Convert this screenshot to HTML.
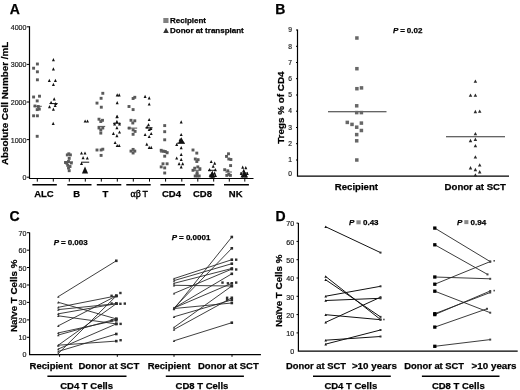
<!DOCTYPE html>
<html><head><meta charset="utf-8">
<style>
html,body{margin:0;padding:0;background:#fff;width:520px;height:390px;overflow:hidden}
svg{display:block;will-change:transform}
text{font-family:"Liberation Sans",sans-serif;stroke:#000;stroke-width:0.25px}
.t text,text.t{stroke:#1e1e1e;stroke-width:0.2px}
.b{font-weight:bold}
.t{font-size:7.1px;fill:#1e1e1e;text-anchor:end}
.pl{font-size:14px;font-weight:bold}
.ax{stroke:#000;stroke-width:1.2;fill:none}
.tk{stroke:#000;stroke-width:1;fill:none}
.gb{stroke:#000;stroke-width:1.4}
.xl{font-size:9.5px;font-weight:bold;text-anchor:middle}
.pv{font-size:8px;font-weight:bold}
.pi{font-style:italic}
</style></head><body>
<svg width="520" height="390" viewBox="0 0 520 390">
<!-- Panel A -->
<text class="pl" x="9.8" y="14.1">A</text>
<rect x="163.3" y="18" width="5.2" height="5" fill="#808080"/>
<text class="b" x="170" y="22.9" font-size="8">Recipient</text>
<path d="M163.2 33 L166 27.8 L168.8 33 Z" fill="#333"/>
<text class="b" x="170" y="33.0" font-size="8">Donor at transplant</text>
<text class="b" font-size="9.9" text-anchor="middle" transform="translate(8.3,103.4) rotate(-90)">Absolute Cell Number /mL</text>
<path class="ax" d="M29.5 26.3 V178.5 H253.5"/>
<path class="tk" d="M26.8 26.8 H29.5 M26.8 64.4 H29.5 M26.8 102 H29.5 M26.8 139.6 H29.5 M26.8 177.2 H29.5"/>
<text class="t" x="26.5" y="30.4">4000</text>
<text class="t" x="26.5" y="67.4">3000</text>
<text class="t" x="26.5" y="105">2000</text>
<text class="t" x="26.5" y="142.6">1000</text>
<text class="t" x="26.5" y="179.8">0</text>
<path class="tk" d="M37.3 178.5V181.6 M53.3 178.5V181.6 M69.3 178.5V181.6 M85.3 178.5V181.6 M101.3 178.5V181.6 M117.3 178.5V181.6 M133.3 178.5V181.6 M149.5 178.5V181.6 M165.6 178.5V181.6 M181.8 178.5V181.6 M197.8 178.5V181.6 M213.7 178.5V181.6 M229.3 178.5V181.6 M244.8 178.5V181.6"/>
<path class="gb" d="M32.4 184.7H56.8 M67.3 184.7H91.5 M96.8 184.7H121.3 M126.3 184.7H150.7 M160.4 184.7H184.9 M190.1 184.7H214.3 M224 184.7H248.9"/>
<text class="xl" x="43.9" y="196.7">ALC</text>
<text class="xl" x="76.6" y="196.7">B</text>
<text class="xl" x="105.3" y="196.7">T</text>
<text x="130.6" y="196.7" font-size="10" style="stroke-width:0.35px"><tspan font-family="Liberation Serif">αβ</tspan><tspan x="142.4" font-size="8.9">T</tspan></text>
<text class="xl" x="171.5" y="196.7">CD4</text>
<text class="xl" x="202.5" y="196.7">CD8</text>
<text class="xl" x="235.7" y="196.7">NK</text>
<rect x="35.95" y="62.55" width="2.9" height="2.9" fill="#5a5a5a"/>
<rect x="32.15" y="66.75" width="2.9" height="2.9" fill="#5a5a5a"/>
<rect x="35.95" y="70.35" width="2.9" height="2.9" fill="#5a5a5a"/>
<rect x="35.95" y="78.35" width="2.9" height="2.9" fill="#5a5a5a"/>
<rect x="32.15" y="95.55" width="2.9" height="2.9" fill="#5a5a5a"/>
<rect x="38.05" y="94.75" width="2.9" height="2.9" fill="#5a5a5a"/>
<rect x="35.75" y="99.45" width="2.9" height="2.9" fill="#5a5a5a"/>
<rect x="33.55" y="104.55" width="2.9" height="2.9" fill="#5a5a5a"/>
<rect x="36.85" y="105.05" width="2.9" height="2.9" fill="#5a5a5a"/>
<rect x="35.75" y="108.15" width="2.9" height="2.9" fill="#5a5a5a"/>
<rect x="37.85" y="107.65" width="2.9" height="2.9" fill="#5a5a5a"/>
<rect x="32.15" y="114.35" width="2.9" height="2.9" fill="#5a5a5a"/>
<rect x="35.95" y="114.35" width="2.9" height="2.9" fill="#5a5a5a"/>
<rect x="35.75" y="134.85" width="2.9" height="2.9" fill="#5a5a5a"/>
<rect x="65.85" y="153.45" width="2.9" height="2.9" fill="#5a5a5a"/>
<rect x="68.95" y="153.45" width="2.9" height="2.9" fill="#5a5a5a"/>
<rect x="67.35" y="152.35" width="2.9" height="2.9" fill="#5a5a5a"/>
<rect x="67.75" y="156.95" width="2.9" height="2.9" fill="#5a5a5a"/>
<rect x="64.05" y="161.05" width="2.9" height="2.9" fill="#5a5a5a"/>
<rect x="67.05" y="160.05" width="2.9" height="2.9" fill="#5a5a5a"/>
<rect x="69.85" y="161.55" width="2.9" height="2.9" fill="#5a5a5a"/>
<rect x="66.25" y="163.85" width="2.9" height="2.9" fill="#5a5a5a"/>
<rect x="68.55" y="165.05" width="2.9" height="2.9" fill="#5a5a5a"/>
<rect x="67.05" y="166.55" width="2.9" height="2.9" fill="#5a5a5a"/>
<rect x="67.75" y="169.25" width="2.9" height="2.9" fill="#5a5a5a"/>
<rect x="65.35" y="161.75" width="2.9" height="2.9" fill="#5a5a5a"/>
<rect x="101.35" y="91.85" width="2.9" height="2.9" fill="#5a5a5a"/>
<rect x="99.65" y="96.85" width="2.9" height="2.9" fill="#5a5a5a"/>
<rect x="95.55" y="101.65" width="2.9" height="2.9" fill="#5a5a5a"/>
<rect x="99.85" y="105.75" width="2.9" height="2.9" fill="#5a5a5a"/>
<rect x="97.55" y="117.75" width="2.9" height="2.9" fill="#5a5a5a"/>
<rect x="101.05" y="118.85" width="2.9" height="2.9" fill="#5a5a5a"/>
<rect x="99.35" y="120.05" width="2.9" height="2.9" fill="#5a5a5a"/>
<rect x="97.55" y="126.55" width="2.9" height="2.9" fill="#5a5a5a"/>
<rect x="101.35" y="126.55" width="2.9" height="2.9" fill="#5a5a5a"/>
<rect x="99.35" y="128.55" width="2.9" height="2.9" fill="#5a5a5a"/>
<rect x="99.35" y="131.65" width="2.9" height="2.9" fill="#5a5a5a"/>
<rect x="95.55" y="148.55" width="2.9" height="2.9" fill="#5a5a5a"/>
<rect x="99.65" y="148.55" width="2.9" height="2.9" fill="#5a5a5a"/>
<rect x="101.35" y="147.75" width="2.9" height="2.9" fill="#5a5a5a"/>
<rect x="99.65" y="153.95" width="2.9" height="2.9" fill="#5a5a5a"/>
<rect x="131.65" y="97.05" width="2.9" height="2.9" fill="#5a5a5a"/>
<rect x="133.35" y="95.85" width="2.9" height="2.9" fill="#5a5a5a"/>
<rect x="127.55" y="105.05" width="2.9" height="2.9" fill="#5a5a5a"/>
<rect x="131.65" y="108.15" width="2.9" height="2.9" fill="#5a5a5a"/>
<rect x="129.55" y="118.85" width="2.9" height="2.9" fill="#5a5a5a"/>
<rect x="133.35" y="119.35" width="2.9" height="2.9" fill="#5a5a5a"/>
<rect x="131.35" y="121.55" width="2.9" height="2.9" fill="#5a5a5a"/>
<rect x="127.75" y="126.65" width="2.9" height="2.9" fill="#5a5a5a"/>
<rect x="131.65" y="128.45" width="2.9" height="2.9" fill="#5a5a5a"/>
<rect x="133.65" y="129.95" width="2.9" height="2.9" fill="#5a5a5a"/>
<rect x="131.65" y="132.85" width="2.9" height="2.9" fill="#5a5a5a"/>
<rect x="129.55" y="149.65" width="2.9" height="2.9" fill="#5a5a5a"/>
<rect x="133.35" y="149.65" width="2.9" height="2.9" fill="#5a5a5a"/>
<rect x="131.65" y="147.95" width="2.9" height="2.9" fill="#5a5a5a"/>
<rect x="131.65" y="151.55" width="2.9" height="2.9" fill="#5a5a5a"/>
<rect x="163.25" y="124.15" width="2.9" height="2.9" fill="#5a5a5a"/>
<rect x="163.25" y="130.25" width="2.9" height="2.9" fill="#5a5a5a"/>
<rect x="163.25" y="138.35" width="2.9" height="2.9" fill="#5a5a5a"/>
<rect x="159.75" y="148.85" width="2.9" height="2.9" fill="#5a5a5a"/>
<rect x="161.75" y="149.65" width="2.9" height="2.9" fill="#5a5a5a"/>
<rect x="163.85" y="150.05" width="2.9" height="2.9" fill="#5a5a5a"/>
<rect x="165.65" y="151.35" width="2.9" height="2.9" fill="#5a5a5a"/>
<rect x="163.25" y="154.75" width="2.9" height="2.9" fill="#5a5a5a"/>
<rect x="161.55" y="162.35" width="2.9" height="2.9" fill="#5a5a5a"/>
<rect x="165.65" y="162.35" width="2.9" height="2.9" fill="#5a5a5a"/>
<rect x="159.75" y="165.45" width="2.9" height="2.9" fill="#5a5a5a"/>
<rect x="163.25" y="166.45" width="2.9" height="2.9" fill="#5a5a5a"/>
<rect x="163.25" y="171.55" width="2.9" height="2.9" fill="#5a5a5a"/>
<rect x="191.55" y="148.55" width="2.9" height="2.9" fill="#5a5a5a"/>
<rect x="195.35" y="151.65" width="2.9" height="2.9" fill="#5a5a5a"/>
<rect x="193.85" y="157.55" width="2.9" height="2.9" fill="#5a5a5a"/>
<rect x="196.65" y="158.25" width="2.9" height="2.9" fill="#5a5a5a"/>
<rect x="195.35" y="160.05" width="2.9" height="2.9" fill="#5a5a5a"/>
<rect x="196.35" y="165.45" width="2.9" height="2.9" fill="#5a5a5a"/>
<rect x="193.25" y="166.75" width="2.9" height="2.9" fill="#5a5a5a"/>
<rect x="198.45" y="167.25" width="2.9" height="2.9" fill="#5a5a5a"/>
<rect x="191.55" y="168.85" width="2.9" height="2.9" fill="#5a5a5a"/>
<rect x="195.65" y="171.15" width="2.9" height="2.9" fill="#5a5a5a"/>
<rect x="193.75" y="174.55" width="2.9" height="2.9" fill="#5a5a5a"/>
<rect x="195.75" y="174.55" width="2.9" height="2.9" fill="#5a5a5a"/>
<rect x="197.75" y="174.55" width="2.9" height="2.9" fill="#5a5a5a"/>
<rect x="195.55" y="173.15" width="2.9" height="2.9" fill="#5a5a5a"/>
<rect x="227.05" y="152.35" width="2.9" height="2.9" fill="#5a5a5a"/>
<rect x="225.05" y="154.95" width="2.9" height="2.9" fill="#5a5a5a"/>
<rect x="227.35" y="157.55" width="2.9" height="2.9" fill="#5a5a5a"/>
<rect x="229.45" y="158.05" width="2.9" height="2.9" fill="#5a5a5a"/>
<rect x="229.15" y="164.15" width="2.9" height="2.9" fill="#5a5a5a"/>
<rect x="223.25" y="168.25" width="2.9" height="2.9" fill="#5a5a5a"/>
<rect x="226.35" y="169.35" width="2.9" height="2.9" fill="#5a5a5a"/>
<rect x="227.35" y="172.95" width="2.9" height="2.9" fill="#5a5a5a"/>
<rect x="225.35" y="173.95" width="2.9" height="2.9" fill="#5a5a5a"/>
<rect x="228.95" y="173.95" width="2.9" height="2.9" fill="#5a5a5a"/>
<path d="M51.90 61.30L53.40 58.10L54.90 61.30Z" fill="#111"/>
<path d="M51.90 70.50L53.40 67.30L54.90 70.50Z" fill="#111"/>
<path d="M47.80 82.00L49.30 78.80L50.80 82.00Z" fill="#111"/>
<path d="M53.90 82.00L55.40 78.80L56.90 82.00Z" fill="#111"/>
<path d="M51.90 86.00L53.40 82.80L54.90 86.00Z" fill="#111"/>
<path d="M52.70 100.40L54.20 97.20L55.70 100.40Z" fill="#111"/>
<path d="M49.60 104.00L51.10 100.80L52.60 104.00Z" fill="#111"/>
<path d="M54.20 105.10L55.70 101.90L57.20 105.10Z" fill="#111"/>
<path d="M53.70 107.10L55.20 103.90L56.70 107.10Z" fill="#111"/>
<path d="M48.00 108.30L49.50 105.10L51.00 108.30Z" fill="#111"/>
<path d="M51.90 110.70L53.40 107.50L54.90 110.70Z" fill="#111"/>
<path d="M51.70 124.90L53.20 121.70L54.70 124.90Z" fill="#111"/>
<path d="M83.60 122.60L85.10 119.40L86.60 122.60Z" fill="#111"/>
<path d="M86.00 122.60L87.50 119.40L89.00 122.60Z" fill="#111"/>
<path d="M80.00 154.60L81.50 151.40L83.00 154.60Z" fill="#111"/>
<path d="M83.50 154.60L85.00 151.40L86.50 154.60Z" fill="#111"/>
<path d="M81.60 159.20L83.10 156.00L84.60 159.20Z" fill="#111"/>
<path d="M85.80 159.60L87.30 156.40L88.80 159.60Z" fill="#111"/>
<path d="M80.00 165.00L81.50 161.80L83.00 165.00Z" fill="#111"/>
<path d="M115.70 96.50L117.20 93.30L118.70 96.50Z" fill="#111"/>
<path d="M117.70 96.50L119.20 93.30L120.70 96.50Z" fill="#111"/>
<path d="M115.70 104.20L117.20 101.00L118.70 104.20Z" fill="#111"/>
<path d="M115.70 118.00L117.20 114.80L118.70 118.00Z" fill="#111"/>
<path d="M115.40 118.30L116.90 115.10L118.40 118.30Z" fill="#111"/>
<path d="M115.40 122.90L116.90 119.70L118.40 122.90Z" fill="#111"/>
<path d="M113.10 125.40L114.60 122.20L116.10 125.40Z" fill="#111"/>
<path d="M118.00 125.40L119.50 122.20L121.00 125.40Z" fill="#111"/>
<path d="M115.40 129.20L116.90 126.00L118.40 129.20Z" fill="#111"/>
<path d="M118.00 133.60L119.50 130.40L121.00 133.60Z" fill="#111"/>
<path d="M111.90 135.00L113.40 131.80L114.90 135.00Z" fill="#111"/>
<path d="M115.40 137.20L116.90 134.00L118.40 137.20Z" fill="#111"/>
<path d="M113.60 144.10L115.10 140.90L116.60 144.10Z" fill="#111"/>
<path d="M115.70 147.10L117.20 143.90L118.70 147.10Z" fill="#111"/>
<path d="M117.70 147.10L119.20 143.90L120.70 147.10Z" fill="#111"/>
<path d="M143.60 97.90L145.10 94.70L146.60 97.90Z" fill="#111"/>
<path d="M147.70 99.40L149.20 96.20L150.70 99.40Z" fill="#111"/>
<path d="M147.70 105.60L149.20 102.40L150.70 105.60Z" fill="#111"/>
<path d="M147.70 121.10L149.20 117.90L150.70 121.10Z" fill="#111"/>
<path d="M147.00 126.30L148.50 123.10L150.00 126.30Z" fill="#111"/>
<path d="M145.60 128.40L147.10 125.20L148.60 128.40Z" fill="#111"/>
<path d="M149.40 129.90L150.90 126.70L152.40 129.90Z" fill="#111"/>
<path d="M147.70 131.00L149.20 127.80L150.70 131.00Z" fill="#111"/>
<path d="M143.60 136.10L145.10 132.90L146.60 136.10Z" fill="#111"/>
<path d="M149.70 135.10L151.20 131.90L152.70 135.10Z" fill="#111"/>
<path d="M147.70 138.10L149.20 134.90L150.70 138.10Z" fill="#111"/>
<path d="M145.30 145.80L146.80 142.60L148.30 145.80Z" fill="#111"/>
<path d="M147.70 148.90L149.20 145.70L150.70 148.90Z" fill="#111"/>
<path d="M149.70 148.90L151.20 145.70L152.70 148.90Z" fill="#111"/>
<path d="M179.70 123.40L181.20 120.20L182.70 123.40Z" fill="#111"/>
<path d="M179.70 136.10L181.20 132.90L182.70 136.10Z" fill="#111"/>
<path d="M178.60 141.30L180.10 138.10L181.60 141.30Z" fill="#111"/>
<path d="M181.10 142.90L182.60 139.70L184.10 142.90Z" fill="#111"/>
<path d="M175.20 146.00L176.70 142.80L178.20 146.00Z" fill="#111"/>
<path d="M179.70 149.30L181.20 146.10L182.70 149.30Z" fill="#111"/>
<path d="M179.70 156.00L181.20 152.80L182.70 156.00Z" fill="#111"/>
<path d="M175.20 159.60L176.70 156.40L178.20 159.60Z" fill="#111"/>
<path d="M179.70 160.90L181.20 157.70L182.70 160.90Z" fill="#111"/>
<path d="M177.60 165.20L179.10 162.00L180.60 165.20Z" fill="#111"/>
<path d="M181.20 165.20L182.70 162.00L184.20 165.20Z" fill="#111"/>
<path d="M179.70 168.50L181.20 165.30L182.70 168.50Z" fill="#111"/>
<path d="M209.70 163.10L211.20 159.90L212.70 163.10Z" fill="#111"/>
<path d="M213.20 164.70L214.70 161.50L216.20 164.70Z" fill="#111"/>
<path d="M211.70 167.80L213.20 164.60L214.70 167.80Z" fill="#111"/>
<path d="M208.10 171.30L209.60 168.10L211.10 171.30Z" fill="#111"/>
<path d="M213.80 171.30L215.30 168.10L216.80 171.30Z" fill="#111"/>
<path d="M210.70 174.40L212.20 171.20L213.70 174.40Z" fill="#111"/>
<path d="M209.50 177.40L211.00 174.20L212.50 177.40Z" fill="#111"/>
<path d="M212.00 177.40L213.50 174.20L215.00 177.40Z" fill="#111"/>
<path d="M214.00 177.10L215.50 173.90L217.00 177.10Z" fill="#111"/>
<path d="M211.00 176.10L212.50 172.90L214.00 176.10Z" fill="#111"/>
<path d="M208.70 176.80L210.20 173.60L211.70 176.80Z" fill="#111"/>
<path d="M213.10 174.80L214.60 171.60L216.10 174.80Z" fill="#111"/>
<path d="M210.90 177.80L212.40 174.60L213.90 177.80Z" fill="#111"/>
<path d="M241.20 168.80L242.70 165.60L244.20 168.80Z" fill="#111"/>
<path d="M244.30 169.30L245.80 166.10L247.30 169.30Z" fill="#111"/>
<path d="M242.20 171.90L243.70 168.70L245.20 171.90Z" fill="#111"/>
<path d="M239.70 174.90L241.20 171.70L242.70 174.90Z" fill="#111"/>
<path d="M245.80 174.90L247.30 171.70L248.80 174.90Z" fill="#111"/>
<path d="M242.00 177.40L243.50 174.20L245.00 177.40Z" fill="#111"/>
<path d="M244.00 177.40L245.50 174.20L247.00 177.40Z" fill="#111"/>
<path d="M243.00 176.10L244.50 172.90L246.00 176.10Z" fill="#111"/>
<path d="M240.50 177.60L242.00 174.40L243.50 177.60Z" fill="#111"/>
<path d="M245.00 177.60L246.50 174.40L248.00 177.60Z" fill="#111"/>
<path d="M243.00 174.10L244.50 170.90L246.00 174.10Z" fill="#111"/>
<path d="M81.90 173.45L85.00 166.55L88.10 173.45Z" fill="#111"/>
<path d="M209.30 177.20L212.30 170.80L215.30 177.20Z" fill="#111"/>
<path d="M241.30 176.80L244.30 170.20L247.30 176.80Z" fill="#111"/>
<path d="M178.00 143.50L181.30 137.30L184.60 143.50Z" fill="#111"/>
<path d="M33.6 106.3H41.8" stroke="#555" stroke-width="1"/>
<path d="M49.5 103.6H57.7" stroke="#111" stroke-width="1"/>
<path d="M64.5 162H73" stroke="#555" stroke-width="1"/>
<path d="M81.2 162.2H89.2" stroke="#111" stroke-width="1"/>
<path d="M97.7 126.4H105.2" stroke="#555" stroke-width="1"/>
<path d="M113 123.3H120.8" stroke="#111" stroke-width="1"/>
<path d="M127.6 128.1H137.2" stroke="#555" stroke-width="1"/>
<path d="M145.4 127.8H152.6" stroke="#111" stroke-width="1"/>
<path d="M160 152H168.5" stroke="#555" stroke-width="1"/>
<path d="M177 143.2H185" stroke="#111" stroke-width="1"/>
<path d="M192.2 170.3H201.2" stroke="#555" stroke-width="1"/>
<path d="M208 170.3H216.3" stroke="#111" stroke-width="1"/>
<path d="M225.3 172H231.9" stroke="#555" stroke-width="1"/>
<path d="M240.1 173H247.8" stroke="#111" stroke-width="1"/>

<!-- Panel B -->
<text class="pl" x="275.3" y="14.3">B</text>
<text class="pv" y="33"><tspan class="pi" x="393">P</tspan><tspan x="400.2">=</tspan><tspan x="406.8">0.02</tspan></text>
<text class="b" font-size="9.9" text-anchor="middle" transform="translate(283.9,107.65) rotate(-90)">Tregs % of CD4</text>
<path class="ax" d="M297.5 29.5 V176.2 H509"/>
<path class="tk" d="M296 30H297.5 M296 46.3H297.5 M296 62.5H297.5 M296 78.7H297.5 M296 95H297.5 M296 111.2H297.5 M296 127.5H297.5 M296 143.7H297.5 M296 160H297.5"/>
<g class="t" style="font-size:6.7px">
<text x="292" y="32.2">9</text><text x="292" y="48.5">8</text><text x="292" y="64.7">7</text><text x="292" y="80.9">6</text><text x="292" y="97.2">5</text><text x="292" y="113.4">4</text><text x="292" y="129.7">3</text><text x="292" y="145.9">2</text><text x="292" y="162.2">1</text><text x="292" y="176">0</text>
</g>
<text class="b" font-size="9.6" x="334.8" y="189.6">Recipient</text>
<text class="b" font-size="9.6" x="444.6" y="189.6">Donor at SCT</text>
<path d="M328 111.8H386.5 M446 136.8H505" stroke="#333" stroke-width="1.1"/>
<rect x="355.15" y="36.25" width="3.5" height="3.5" fill="#676767"/>
<rect x="355.15" y="66.95" width="3.5" height="3.5" fill="#676767"/>
<rect x="355.15" y="86.95" width="3.5" height="3.5" fill="#676767"/>
<rect x="359.75" y="86.15" width="3.5" height="3.5" fill="#676767"/>
<rect x="354.95" y="104.05" width="3.5" height="3.5" fill="#676767"/>
<rect x="354.95" y="110.85" width="3.5" height="3.5" fill="#676767"/>
<rect x="359.65" y="110.85" width="3.5" height="3.5" fill="#676767"/>
<rect x="345.55" y="120.65" width="3.5" height="3.5" fill="#676767"/>
<rect x="350.25" y="122.65" width="3.5" height="3.5" fill="#676767"/>
<rect x="359.65" y="121.35" width="3.5" height="3.5" fill="#676767"/>
<rect x="354.95" y="125.45" width="3.5" height="3.5" fill="#676767"/>
<rect x="359.65" y="128.75" width="3.5" height="3.5" fill="#676767"/>
<rect x="354.95" y="132.85" width="3.5" height="3.5" fill="#676767"/>
<rect x="354.95" y="139.05" width="3.5" height="3.5" fill="#676767"/>
<rect x="355.05" y="158.25" width="3.5" height="3.5" fill="#676767"/>
<path d="M473.65 82.80L475.40 79.40L477.15 82.80Z" fill="#2a2a2a"/>
<path d="M468.75 96.80L470.50 93.40L472.25 96.80Z" fill="#2a2a2a"/>
<path d="M473.65 96.80L475.40 93.40L477.15 96.80Z" fill="#2a2a2a"/>
<path d="M473.65 113.20L475.40 109.80L477.15 113.20Z" fill="#2a2a2a"/>
<path d="M477.95 112.80L479.70 109.40L481.45 112.80Z" fill="#2a2a2a"/>
<path d="M473.65 135.30L475.40 131.90L477.15 135.30Z" fill="#2a2a2a"/>
<path d="M468.75 142.20L470.50 138.80L472.25 142.20Z" fill="#2a2a2a"/>
<path d="M473.65 140.90L475.40 137.50L477.15 140.90Z" fill="#2a2a2a"/>
<path d="M473.65 147.30L475.40 143.90L477.15 147.30Z" fill="#2a2a2a"/>
<path d="M473.65 158.60L475.40 155.20L477.15 158.60Z" fill="#2a2a2a"/>
<path d="M477.95 166.60L479.70 163.20L481.45 166.60Z" fill="#2a2a2a"/>
<path d="M468.75 169.50L470.50 166.10L472.25 169.50Z" fill="#2a2a2a"/>
<path d="M473.65 171.20L475.40 167.80L477.15 171.20Z" fill="#2a2a2a"/>
<path d="M477.95 173.40L479.70 170.00L481.45 173.40Z" fill="#2a2a2a"/>
<path d="M473.65 176.60L475.40 173.20L477.15 176.60Z" fill="#2a2a2a"/>

<!-- Panel C -->
<text class="pl" x="9.6" y="221.3">C</text>
<text class="pv" y="244.5"><tspan class="pi" x="53.8">P</tspan><tspan x="61.1">=</tspan><tspan x="67.7">0.003</tspan></text>
<text class="pv" y="239.5"><tspan class="pi" x="171.7">P</tspan><tspan x="179">=</tspan><tspan x="185.9">0.0001</tspan></text>
<text class="b" font-size="9.8" text-anchor="middle" transform="translate(16.5,295.85) rotate(-90)">Naïve T Cells %</text>
<path class="ax" d="M29.6 232.4 V354.7 H260.9"/>
<path class="tk" d="M27 232.7H29.6 M27 250.2H29.6 M27 267.5H29.6 M27 285H29.6 M27 302.4H29.6 M27 319.9H29.6 M27 337.3H29.6 M59.6 354.7V356.8 M117.3 354.7V356.8 M174 354.7V356.8 M232 354.7V356.8"/>
<g class="t">
<text x="26.5" y="235.6">70</text><text x="26.5" y="253">60</text><text x="26.5" y="270.5">50</text><text x="26.5" y="288">40</text><text x="26.5" y="305.4">30</text><text x="26.5" y="322.8">20</text><text x="26.5" y="339.5">10</text><text x="26.5" y="356.5">0</text>
</g>
<text class="b" font-size="9.5" x="29.6" y="369.3">Recipient</text>
<text class="b" font-size="9.5" x="78.5" y="369.3">Donor at SCT</text>
<text class="b" font-size="9.5" x="147.7" y="369.3">Recipient</text>
<text class="b" font-size="9.5" x="198" y="369.3">Donor at SCT</text>
<path class="gb" d="M47.4 376.2H126.5 M165.8 376.2H243.9"/>
<text class="xl" font-size="9.9" x="86.6" y="388.5">CD4 T Cells</text>
<text class="xl" font-size="9.9" x="202" y="388.5">CD8 T Cells</text>
<path d="M58.3 296.6L116.3 260.8M58.3 302.3L116.3 318.9M58.3 307.3L116.3 295.9M58.3 309.6L116.3 303.7M58.3 313.8L116.3 303.7M58.3 315.8L116.3 323.9M58.3 325.8L116.3 295.9M58.3 332.9L116.3 320.3M58.3 345.2L116.3 303.7M58.3 345.2L116.3 341.1M58.3 349L116.3 323.9M58.3 351.4L116.3 334M58.3 353.5L116.3 295.9M58.3 335L116.3 318.9" stroke="#2a2a2a" stroke-width="0.9" fill="none"/>
<path d="M57.10 297.80L58.30 295.40L59.50 297.80Z" fill="#333"/>
<rect x="115.00" y="259.50" width="2.6" height="2.6" fill="#2a2a2a"/>
<path d="M57.10 303.50L58.30 301.10L59.50 303.50Z" fill="#333"/>
<rect x="115.00" y="317.60" width="2.6" height="2.6" fill="#2a2a2a"/>
<path d="M57.10 308.50L58.30 306.10L59.50 308.50Z" fill="#333"/>
<rect x="115.00" y="294.60" width="2.6" height="2.6" fill="#2a2a2a"/>
<path d="M57.10 310.80L58.30 308.40L59.50 310.80Z" fill="#333"/>
<rect x="115.00" y="302.40" width="2.6" height="2.6" fill="#2a2a2a"/>
<path d="M57.10 315.00L58.30 312.60L59.50 315.00Z" fill="#333"/>
<rect x="115.00" y="302.40" width="2.6" height="2.6" fill="#2a2a2a"/>
<path d="M57.10 317.00L58.30 314.60L59.50 317.00Z" fill="#333"/>
<rect x="115.00" y="322.60" width="2.6" height="2.6" fill="#2a2a2a"/>
<path d="M57.10 327.00L58.30 324.60L59.50 327.00Z" fill="#333"/>
<rect x="115.00" y="294.60" width="2.6" height="2.6" fill="#2a2a2a"/>
<path d="M57.10 334.10L58.30 331.70L59.50 334.10Z" fill="#333"/>
<rect x="115.00" y="319.00" width="2.6" height="2.6" fill="#2a2a2a"/>
<path d="M57.10 346.40L58.30 344.00L59.50 346.40Z" fill="#333"/>
<rect x="115.00" y="302.40" width="2.6" height="2.6" fill="#2a2a2a"/>
<path d="M57.10 346.40L58.30 344.00L59.50 346.40Z" fill="#333"/>
<rect x="115.00" y="339.80" width="2.6" height="2.6" fill="#2a2a2a"/>
<path d="M57.10 350.20L58.30 347.80L59.50 350.20Z" fill="#333"/>
<rect x="115.00" y="322.60" width="2.6" height="2.6" fill="#2a2a2a"/>
<path d="M57.10 352.60L58.30 350.20L59.50 352.60Z" fill="#333"/>
<rect x="115.00" y="332.70" width="2.6" height="2.6" fill="#2a2a2a"/>
<path d="M57.10 354.70L58.30 352.30L59.50 354.70Z" fill="#333"/>
<rect x="115.00" y="294.60" width="2.6" height="2.6" fill="#2a2a2a"/>
<path d="M57.10 336.20L58.30 333.80L59.50 336.20Z" fill="#333"/>
<rect x="115.00" y="317.60" width="2.6" height="2.6" fill="#2a2a2a"/>
<path d="M174.0 278.6L231.8 259.7M174.0 280.6L231.8 263.7M174.0 283.3L231.8 268.5M174.0 285.3L231.8 286M174.0 293.4L231.8 269.1M174.0 309L231.8 237M174.0 308L231.8 248.3M174.0 308L231.8 273.8M174.0 308L231.8 283.3M174.0 308.5L231.8 303M174.0 316.8L231.8 299.9M174.0 327.4L231.8 286M174.0 329.5L231.8 297.8M174.0 340.8L231.8 322.7" stroke="#2a2a2a" stroke-width="0.9" fill="none"/>
<path d="M172.80 279.80L174.00 277.40L175.20 279.80Z" fill="#333"/>
<rect x="230.50" y="258.40" width="2.6" height="2.6" fill="#2a2a2a"/>
<path d="M172.80 281.80L174.00 279.40L175.20 281.80Z" fill="#333"/>
<rect x="230.50" y="262.40" width="2.6" height="2.6" fill="#2a2a2a"/>
<path d="M172.80 284.50L174.00 282.10L175.20 284.50Z" fill="#333"/>
<rect x="230.50" y="267.20" width="2.6" height="2.6" fill="#2a2a2a"/>
<path d="M172.80 286.50L174.00 284.10L175.20 286.50Z" fill="#333"/>
<rect x="230.50" y="284.70" width="2.6" height="2.6" fill="#2a2a2a"/>
<path d="M172.80 294.60L174.00 292.20L175.20 294.60Z" fill="#333"/>
<rect x="230.50" y="267.80" width="2.6" height="2.6" fill="#2a2a2a"/>
<path d="M172.80 310.20L174.00 307.80L175.20 310.20Z" fill="#333"/>
<rect x="230.50" y="235.70" width="2.6" height="2.6" fill="#2a2a2a"/>
<path d="M172.80 309.20L174.00 306.80L175.20 309.20Z" fill="#333"/>
<rect x="230.50" y="247.00" width="2.6" height="2.6" fill="#2a2a2a"/>
<path d="M172.80 309.20L174.00 306.80L175.20 309.20Z" fill="#333"/>
<rect x="230.50" y="272.50" width="2.6" height="2.6" fill="#2a2a2a"/>
<path d="M172.80 309.20L174.00 306.80L175.20 309.20Z" fill="#333"/>
<rect x="230.50" y="282.00" width="2.6" height="2.6" fill="#2a2a2a"/>
<path d="M172.80 309.70L174.00 307.30L175.20 309.70Z" fill="#333"/>
<rect x="230.50" y="301.70" width="2.6" height="2.6" fill="#2a2a2a"/>
<path d="M172.80 318.00L174.00 315.60L175.20 318.00Z" fill="#333"/>
<rect x="230.50" y="298.60" width="2.6" height="2.6" fill="#2a2a2a"/>
<path d="M172.80 328.60L174.00 326.20L175.20 328.60Z" fill="#333"/>
<rect x="230.50" y="284.70" width="2.6" height="2.6" fill="#2a2a2a"/>
<path d="M172.80 330.70L174.00 328.30L175.20 330.70Z" fill="#333"/>
<rect x="230.50" y="296.50" width="2.6" height="2.6" fill="#2a2a2a"/>
<path d="M172.80 342.00L174.00 339.60L175.20 342.00Z" fill="#333"/>
<rect x="230.50" y="321.40" width="2.6" height="2.6" fill="#2a2a2a"/>
<rect x="119.20" y="291.80" width="2.4" height="2.4" fill="#333"/>
<rect x="119.20" y="302.60" width="2.4" height="2.4" fill="#333"/>
<rect x="123.60" y="302.40" width="2.4" height="2.4" fill="#333"/>
<rect x="119.40" y="322.70" width="2.4" height="2.4" fill="#333"/>
<rect x="119.40" y="339.00" width="2.4" height="2.4" fill="#333"/>
<rect x="110.40" y="294.60" width="2.4" height="2.4" fill="#333"/>
<rect x="110.40" y="302.30" width="2.4" height="2.4" fill="#333"/>
<rect x="110.60" y="319.10" width="2.4" height="2.4" fill="#333"/>
<rect x="235.00" y="258.50" width="2.4" height="2.4" fill="#333"/>
<rect x="235.00" y="268.30" width="2.4" height="2.4" fill="#333"/>
<rect x="235.00" y="281.40" width="2.4" height="2.4" fill="#333"/>
<rect x="221.30" y="281.40" width="2.4" height="2.4" fill="#333"/>
<rect x="226.70" y="282.10" width="2.4" height="2.4" fill="#333"/>
<rect x="225.90" y="296.60" width="2.4" height="2.4" fill="#333"/>
<rect x="225.90" y="298.70" width="2.4" height="2.4" fill="#333"/>

<!-- Panel D -->
<text class="pl" x="275.6" y="221.2">D</text>
<text class="pv" y="224.7"><tspan class="pi" x="349.1">P</tspan><tspan x="363">0.43</tspan></text><rect x="356.4" y="220.3" width="4.3" height="4" fill="#8a8a8a"/>
<text class="pv" y="224.5"><tspan class="pi" x="456.9">P</tspan><tspan x="470.6">0.94</tspan></text><rect x="464.3" y="220.1" width="4.1" height="4" fill="#8a8a8a"/>
<text class="b" font-size="9.8" text-anchor="middle" transform="translate(281.9,290.8) rotate(-90)">Naïve T Cells %</text>
<path class="ax" d="M298.4 223 V351.2 H517.7"/>
<path class="tk" d="M296.5 223.1H298.4 M296.5 241.4H298.4 M296.5 259.7H298.4 M296.5 278H298.4 M296.5 296.3H298.4 M296.5 314.6H298.4 M296.5 332.9H298.4"/>
<g class="t">
<text x="294.2" y="226.3">70</text><text x="294.2" y="244.6">60</text><text x="294.2" y="262.9">50</text><text x="294.2" y="281.2">40</text><text x="294.2" y="299.5">30</text><text x="294.2" y="317.8">20</text><text x="294.2" y="335.6">10</text><text x="294.2" y="353.8">0</text>
</g>
<text class="b" font-size="9.4" x="286" y="368.6">Donor at SCT</text>
<text class="b" font-size="9.8" x="351.9" y="368.6">&gt;10 years</text>
<text class="b" font-size="9.4" x="404.2" y="368.6">Donor at SCT</text>
<text class="b" font-size="9.8" x="471.6" y="368.6">&gt;10 years</text>
<path class="gb" d="M313 376.2H390.8 M421.9 376.2H499.5"/>
<text class="xl" font-size="9.9" x="350.8" y="388.5">CD4 T Cells</text>
<text class="xl" font-size="9.9" x="458.3" y="388.5">CD8 T Cells</text>
<path d="M325.7 226.8L380.5 252.6M325.7 276.5L380.5 319.5M325.7 279.8L380.5 316.9M325.7 296.2L380.5 286.3M325.7 300.5L380.5 298.3M325.7 314.7L380.5 319.7M325.7 322.3L380.5 297.2M325.7 340.2L380.5 336.5M325.7 344.1L380.5 330" stroke="#111" stroke-width="1.0" fill="none"/>
<path d="M324.40 228.10L325.70 225.50L327.00 228.10Z" fill="#111"/>
<rect x="379.50" y="251.60" width="2.0" height="2.0" fill="#333"/>
<path d="M324.40 277.80L325.70 275.20L327.00 277.80Z" fill="#111"/>
<rect x="379.50" y="318.50" width="2.0" height="2.0" fill="#333"/>
<path d="M324.40 281.10L325.70 278.50L327.00 281.10Z" fill="#111"/>
<rect x="379.50" y="315.90" width="2.0" height="2.0" fill="#333"/>
<path d="M324.40 297.50L325.70 294.90L327.00 297.50Z" fill="#111"/>
<rect x="379.50" y="285.30" width="2.0" height="2.0" fill="#333"/>
<path d="M324.40 301.80L325.70 299.20L327.00 301.80Z" fill="#111"/>
<rect x="379.50" y="297.30" width="2.0" height="2.0" fill="#333"/>
<path d="M324.40 316.00L325.70 313.40L327.00 316.00Z" fill="#111"/>
<rect x="379.50" y="318.70" width="2.0" height="2.0" fill="#333"/>
<path d="M324.40 323.60L325.70 321.00L327.00 323.60Z" fill="#111"/>
<rect x="379.50" y="296.20" width="2.0" height="2.0" fill="#333"/>
<path d="M324.40 341.50L325.70 338.90L327.00 341.50Z" fill="#111"/>
<rect x="379.50" y="335.50" width="2.0" height="2.0" fill="#333"/>
<path d="M324.40 345.40L325.70 342.80L327.00 345.40Z" fill="#111"/>
<rect x="379.50" y="329.00" width="2.0" height="2.0" fill="#333"/>
<path d="M434.8 228.1L490.2 261.6M434.8 244.8L487.5 274.4M434.8 277L490.2 278.8M434.8 284.2L490.2 261.6M434.8 291.2L490.2 312.7M434.8 313.7L490.2 292.5M434.8 314.6L490.2 291M434.8 327.1L487 308.8M434.8 346.3L490.2 339.6" stroke="#262626" stroke-width="0.9" fill="none"/>
<rect x="433.15" y="226.45" width="3.3" height="3.3" fill="#000"/>
<rect x="489.20" y="260.60" width="2.0" height="2.0" fill="#444"/>
<rect x="433.15" y="243.15" width="3.3" height="3.3" fill="#000"/>
<rect x="486.50" y="273.40" width="2.0" height="2.0" fill="#444"/>
<rect x="433.15" y="275.35" width="3.3" height="3.3" fill="#000"/>
<rect x="489.20" y="277.80" width="2.0" height="2.0" fill="#444"/>
<rect x="433.15" y="282.55" width="3.3" height="3.3" fill="#000"/>
<rect x="489.20" y="260.60" width="2.0" height="2.0" fill="#444"/>
<rect x="433.15" y="289.55" width="3.3" height="3.3" fill="#000"/>
<rect x="489.20" y="311.70" width="2.0" height="2.0" fill="#444"/>
<rect x="433.15" y="312.05" width="3.3" height="3.3" fill="#000"/>
<rect x="489.20" y="291.50" width="2.0" height="2.0" fill="#444"/>
<rect x="433.15" y="312.95" width="3.3" height="3.3" fill="#000"/>
<rect x="489.20" y="290.00" width="2.0" height="2.0" fill="#444"/>
<rect x="433.15" y="325.45" width="3.3" height="3.3" fill="#000"/>
<rect x="486.00" y="307.80" width="2.0" height="2.0" fill="#444"/>
<rect x="433.15" y="344.65" width="3.3" height="3.3" fill="#000"/>
<rect x="489.20" y="338.60" width="2.0" height="2.0" fill="#444"/>
<rect x="383.10" y="318.70" width="1.6" height="1.6" fill="#555"/>
<rect x="493.40" y="260.00" width="1.6" height="1.6" fill="#555"/>
<rect x="493.40" y="289.80" width="1.6" height="1.6" fill="#555"/>
</svg>
</body></html>
